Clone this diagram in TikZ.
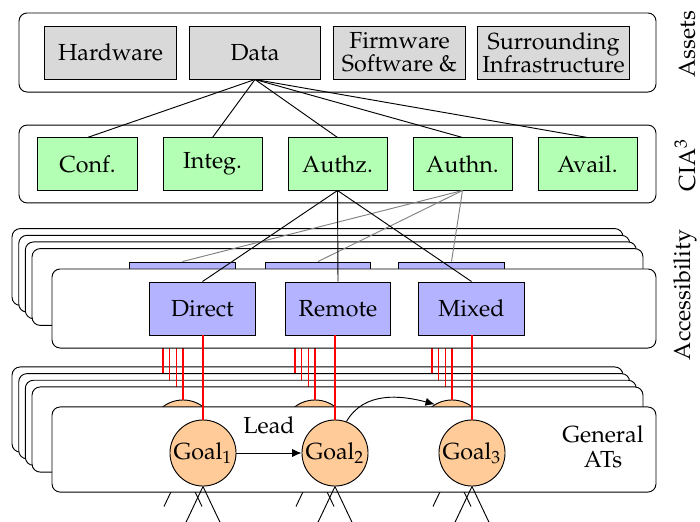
\documentclass[tikz,border=0pt]{standalone}
\usepackage[T1]{fontenc}
\usepackage{mathpazo}
\usetikzlibrary{arrows.meta}

\definecolor{assetgray}{RGB}{217,217,217}
\definecolor{ciagreen}{RGB}{179,255,179}
\definecolor{accblue}{RGB}{179,179,255}
\definecolor{goalorange}{RGB}{255,204,153}

\tikzset{
  layer/.style={draw, fill=white, rounded corners=3.5pt, minimum width=259.7pt},
  asset/.style={draw, fill=assetgray, minimum width=56.5pt, minimum height=22.8pt,
    inner xsep=2pt, inner ysep=1pt, align=center},
  cia/.style={draw, fill=ciagreen, minimum width=42.6pt, minimum height=22.4pt},
  access/.style={draw, fill=accblue, minimum width=45.2pt, minimum height=22.8pt},
  goal/.style={draw, circle, fill=goalorange, minimum size=28.4pt, inner sep=0pt},
  side/.style={rotate=90, inner sep=0pt},
  lead/.style={-{Latex[length=4pt,width=3.5pt]}},
  reach/.style={red, line width=0.55pt},
}

\begin{document}
\begin{tikzpicture}[x=0.43pt, y=-0.43pt]

  \useasboundingbox (0,0) rectangle (700,521);
  \clip (0,0) rectangle (700,521);

  % Assets layer
  \node[layer, minimum width=273.9pt, minimum height=34pt] (assets) at (337.5,52.5) {};
  \node[asset] (hw) at (110.5,52.5) {Hardware};
  \node[asset] (data) at (255,52.5) {Data};
  \node[asset] (fw) at (399.5,52.5) {Firmware\\[-2pt]Software \&};
  \node[asset] (surr) at (553.5,52.5) {Surrounding\\[-2pt]Infrastructure};

  % CIA^3 layer
  \node[layer, minimum width=273.9pt, minimum height=33.5pt] (ciabox) at (337.5,164) {};
  \node[cia] (conf) at (87.5,164) {Conf.};
  \node[cia] (integ) at (212.5,164) {Integ.};
  \node[cia] (authz) at (337.5,164) {Authz.};
  \node[cia] (authn) at (462.5,164) {Authn.};
  \node[cia] (avail) at (587.5,164) {Avail.};
  \foreach \c in {conf,integ,authz,authn,avail}
    \draw (data.south) -- (\c.north);

  % stacked copies behind accessibility and ATs
  \foreach \d [count=\i] in {40,33.3,26.7,20} {
    \begin{scope}[shift={(-\d,-\d)}]
      \node[layer, minimum width=262.7pt, minimum height=33pt] (acc\i) at (357.5,307) {};
      \node[access] (dir\i) at (202.5,308.5) {};
      \node[access] (rem\i) at (338,308.5) {};
      \node[access] (mix\i) at (471.5,308.5) {};
      \node[layer, minimum width=262.7pt, minimum height=36.6pt] (ats\i) at (357.5,449.5) {};
      \node[goal] (ga\i) at (203,453) {};
      \node[goal] (gb\i) at (335,453) {};
      \node[goal] (gc\i) at (472,453) {};
      \foreach \g/\b in {ga/dir,gb/rem,gc/mix}
        \draw[reach] (\g\i.north) -- (\g\i.north |- \b\i.south);
    \end{scope}
  }
  \foreach \g in {ga4,gb4,gc4} {
    \draw (\g.south) -- +(-19,40);
    \draw (\g.south) -- +(19,40);
  }

  % Accessibility layer
  \node[layer, minimum height=34pt] (acc) at (354,308.5) {};
  \node[access] (dir) at (202.5,308.5) {Direct};
  \node[access] (rem) at (338,308.5) {Remote};
  \node[access] (mix) at (471.5,308.5) {Mixed};

  % General ATs layer
  \node[layer, minimum height=36.6pt] (ats) at (354,449.5) {};
  \node[goal] (ga) at (203,453) {Goal$_1$};
  \node[goal] (gb) at (335,453) {Goal$_2$};
  \node[goal] (gc) at (472,453) {Goal$_3$};
  \node[align=center] (general) at (603,447) {General\\[-1pt]ATs};
  \foreach \g/\b in {ga/dir,gb/rem,gc/mix}
    \draw[reach] (\g.north) -- (\g.north |- \b.south);
  \foreach \g in {ga,gb,gc} {
    \draw (\g.south) -- +(-19,40);
    \draw (\g.south) -- +(19,40);
  }
  \draw[lead] (ga) -- (gb) node[midway, above=4.5pt] (leadtxt) {Lead};
  \draw[lead] (gb.70) to[out=60, in=165] (gc4.121);

  % links from CIA^3 to accessibility
  \foreach \a in {dir4,rem4,mix4}
    \draw[gray] (authn.south) -- (\a.north);
  \foreach \a in {dir,rem,mix}
    \draw (authz.south) -- (\a.north);

  % layer titles
  \node[side] (tassets) at (687,44) {Assets};
  \node[side] (tcia) at (685,165) {CIA$^3$};
  \node[side] (tacc) at (685,295) {Accessibility};

\end{tikzpicture}
\end{document}
